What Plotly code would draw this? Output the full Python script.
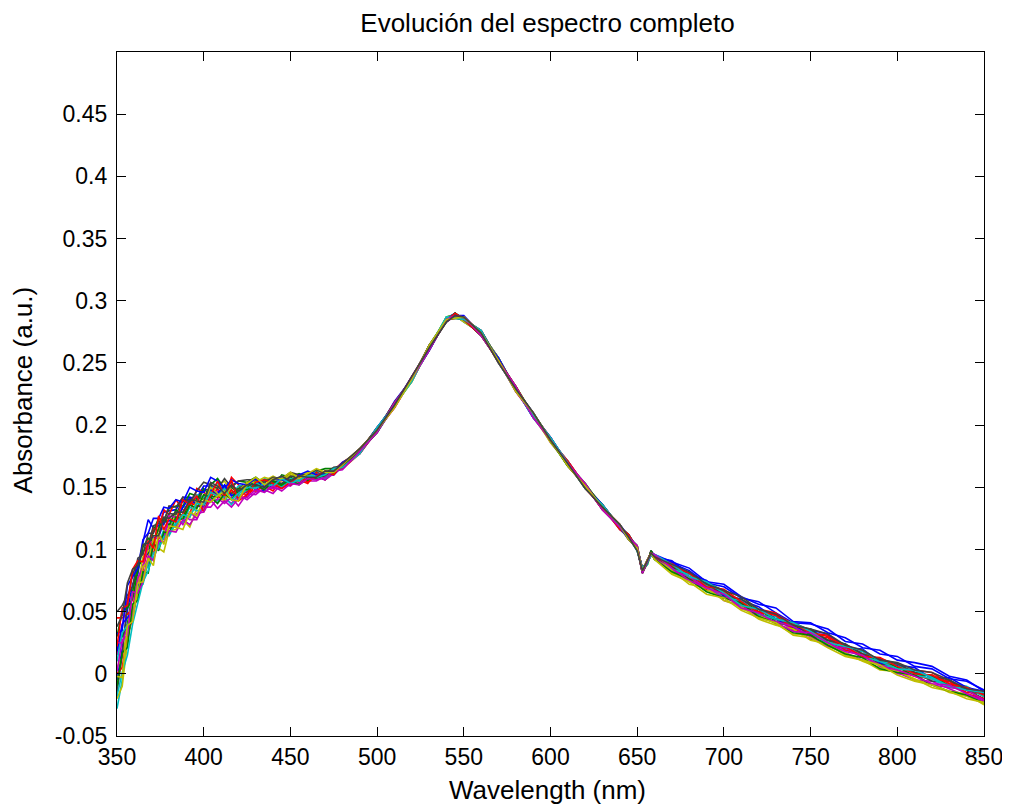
import plotly.graph_objects as go

# Wavelength grid (nm)
WAVELENGTH = [350, 353, 356, 359, 362, 365, 368, 371, 374, 377, 380,
              384, 388, 392, 396, 400, 404, 408, 412, 416, 420,
              425, 430, 435, 440, 445, 450, 455, 460, 465, 470, 475, 480,
              490, 500, 510, 520, 530, 540, 545, 550, 560, 570, 580, 590, 600,
              610, 620, 630, 640, 645, 650, 653, 656, 658, 660,
              670, 680, 690, 700, 710, 720, 730, 740, 750, 760, 770, 780, 790,
              800, 810, 820, 830, 840, 850]

# Central spectrum (absorbance)
BASE = [0.010, 0.025, 0.043, 0.060, 0.075, 0.088, 0.099, 0.107, 0.113, 0.118, 0.123,
        0.128, 0.132, 0.136, 0.139, 0.142, 0.146, 0.147, 0.147, 0.146, 0.147,
        0.150, 0.152, 0.152, 0.153, 0.155, 0.156, 0.157, 0.158, 0.160, 0.160, 0.163, 0.167,
        0.179, 0.196, 0.216, 0.237, 0.262, 0.285, 0.288, 0.285, 0.274, 0.252, 0.229, 0.208, 0.188,
        0.169, 0.151, 0.134, 0.118, 0.110, 0.101, 0.083, 0.090, 0.097, 0.094,
        0.086, 0.078, 0.071, 0.064, 0.057, 0.050, 0.044, 0.038, 0.033, 0.027, 0.021, 0.016, 0.010,
        0.005, 0.001, -0.004, -0.008, -0.013, -0.018]

# Per-spectrum deviations from the central spectrum (milli-absorbance), estimated from the band
DEV_01 = [-15, -5, 8, 12, 5, 18, 25, 10, 6, 12, 8,
          4, 10, 6, 2, 9, 5, -3, 4, 8, -2,
          3, -4, 2, 5, -3, 2, -2, 3, -1, -4, 1, -2,
          2, -1, 3, 0, -2, 1, 0, 3, -1, 2, 0, -2, 2, 0, 1, -2, 0, 2, 0, -1, 0, 2, 1,
          3, 5, 2, 6, 4, 8, 5, 3, 7, 9, 5, 8, 6, 9, 5, 8, 4, 7, 5]
DEV_02 = [10, 5, -3, 6, 12, 3, -2, 8, 12, 5, 10,
          7, 3, 9, 4, -2, 6, 10, 2, 5, 8,
          4, 6, 1, -3, 5, 2, 4, 0, 3, 5, 2, 1,
          -2, 0, 2, -1, 0, 2, 1, 0, -2, 0, 2, 0, -1, 2, 0, -2, 1, 0, 2, 0, -1, 0, 1,
          -3, 0, 2, -2, 3, 0, -4, 2, -1, 0, 3, -2, 2, -4, 0, 2, -2, 0, -3]
DEV_03 = [35, 20, 5, -8, 2, -5, 4, 10, 2, 14, 5,
          12, 0, -8, 10, 4, -4, 2, -6, 12, 5,
          -8, 0, 2, -4, -2, 1, -3, 2, 0, -2, 1, 3,
          0, 2, -2, 0, 2, -2, 0, -2, 0, 2, -2, 0, 2, 0, -2, 0, 2, -2, 0, 2, 0, -2, 0,
          2, -2, 3, 0, -2, 2, 5, -3, 0, 4, -2, 2, 0, -4, 2, 5, 0, -2, 2]
DEV_04 = [-38, -30, -15, -12, -10, -8, -12, -5, -9, -2, -4,
          -3, 2, -1, 5, 0, 3, 6, 1, -2, 4,
          2, -2, 5, 2, 3, -1, 0, -2, 4, 1, -1, 0,
          2, 0, -2, 2, 0, 0, 2, -2, 2, 0, 0, 2, 0, -2, 2, 0, 0, 2, -2, 0, 2, 0, -2,
          0, 3, -2, 2, 0, -3, 2, -2, 3, 0, -2, 2, -3, 0, 2, -2, 0, 3, 0]
DEV_05 = [5, 12, 18, 2, -6, 0, -10, -4, -8, -6, -2,
          -10, -4, -12, -15, -5, -8, 0, -6, -9, -3,
          -10, -6, -4, -8, -2, -5, 0, -3, -5, -1, -3, 1,
          -2, 0, -2, 0, -2, 0, -2, 2, 0, -2, 0, 2, -2, 0, 0, 2, -2, 0, 0, -2, 0, 2, 0,
          -2, -4, 0, -5, -2, -4, 0, -3, -5, -2, -4, -5, -2, -4, -6, -2, -4, -5, -2]
DEV_06 = [-5, -12, -8, 4, -4, 6, 0, -6, 4, -2, -12,
          2, -8, -18, -6, 2, -2, 4, 8, 0, -6,
          1, 5, 3, 6, 0, 4, -2, 1, -1, 2, -2, -1,
          0, -2, 0, 2, -2, 0, 0, 2, 0, -2, 2, 0, 0, -2, 0, 2, 0, -2, 2, 0, -2, 0, 0,
          -5, -2, -4, 0, -5, -2, -4, -6, -2, -5, -4, -6, -5, -2, -6, -4, -7, -5, -6]
DEV_07 = [-25, -10, 15, 20, 15, 10, 5, 12, 8, 2, 6,
          0, 8, 4, -2, 6, 2, -4, 3, -1, 2,
          3, -1, 4, 2, -2, 3, 1, -1, 2, 0, 2, -1,
          0, 1, 2, 0, -2, 0, 2, 0, 0, 2, 0, -2, 0, 2, 0, 0, -2, 0, 0, 2, 0, 0, -2,
          2, 0, -2, 2, 0, -2, 0, 2, -2, 0, 2, 0, -2, 2, 0, -2, 2, 0, -2]
DEV_08 = [8, 15, 2, -10, -4, -12, -6, 2, -3, 4, 0,
          -5, 2, 6, -4, -8, 2, -2, 5, -3, 0,
          -4, 2, -6, -1, 3, -3, -4, 0, -2, 1, -3, 0,
          2, -2, 0, 0, 2, -2, 0, 2, -2, 0, 0, -2, 2, 0, 0, -2, 2, 0, 0, -2, 2, 0, 0,
          5, 2, 4, -1, 2, 4, 0, -1, 2, 5, 0, 4, -1, 2, 4, 0, 5, 2, 4]
DEV_09 = [20, 25, 10, 0, 8, 14, 10, -2, 4, 8, -4,
          4, -6, 3, 1, 7, -3, -5, 0, 4, -2,
          0, 3, -2, 1, -4, 0, 2, -3, 1, -2, 0, 2,
          0, 2, 0, -2, 2, 0, -2, 0, 2, 0, -2, 2, 0, 0, -2, 2, 0, 0, -2, 2, 0, -2, 0,
          0, -2, 2, 3, -2, 2, -2, 0, 3, -2, 0, -3, 2, 0, -2, 3, -2, 2, 0]
DEV_10 = [-10, -20, -12, -16, -8, -14, -6, -10, -4, -8, -6,
          -8, -3, 2, -4, -6, 0, -4, -8, 2, -6,
          -3, -5, -1, -6, 2, -4, -1, -5, 2, -4, 1, -2,
          -2, 0, 2, -2, 0, 0, -2, 2, 0, -2, 0, 0, 2, -2, 0, 0, -2, 2, 0, -2, 0, 2, 0,
          3, 0, -3, 2, -2, 0, 3, -2, -3, 2, -2, 0, 2, -2, -3, 0, 2, -3, -2]
DEV_11 = [0, 8, -4, -14, -6, -16, -8, -14, -10, -6, -12,
          -6, -10, -2, -8, -10, -4, -8, -4, -10, -4,
          -2, 2, -3, 0, -5, 1, -2, 2, -1, -3, 0, 2,
          0, 2, 0, 0, -2, 2, 0, -2, 0, 2, 0, -2, 0, 0, 2, -2, 0, 2, 0, 0, -2, 2, 0,
          -2, 2, 0, -3, 2, -2, 0, 3, 0, -3, 2, -2, 0, 3, -2, 0, -3, 2, 0]
DEV_12 = [15, 0, -6, -12, 2, -2, 6, 0, -2, -10, 4,
          -2, -12, -6, -14, -8, -12, -6, -10, -4, -12,
          -5, -8, -2, -4, -6, -2, -4, 0, -2, -4, -2, 0,
          0, -2, 0, 2, 0, -2, 0, 0, 2, 0, -2, 0, 0, 2, 0, -2, 0, 2, 0, 0, 2, -2, 0,
          -3, 0, -2, -3, 0, -5, -2, 0, -3, -5, 0, -2, -3, -5, -2, -5, -3, 0, -3]
DEV_13 = [-30, -35, -18, -6, -12, -2, -8, 2, -12, -20, -8,
          -12, -4, -10, 0, -6, 4, -2, -8, 6, 0,
          4, 2, 6, 3, 1, 5, 2, 4, 0, 3, 1, 2,
          2, 0, 0, -2, 0, 2, 0, -2, 0, 2, 0, 0, -2, 0, 2, 0, 0, -2, 0, 2, 0, 0, 2,
          -3, -6, -2, -5, -3, -6, -5, -2, -6, -3, -6, -5, -7, -3, -5, -7, -6, -3, -7]
DEV_14 = [40, 30, 20, 10, 18, 8, 14, 6, 10, 4, 12,
          6, 10, 2, 8, 12, 6, 2, 10, 4, 8,
          6, 4, 2, 5, 2, 6, 3, 2, 4, 1, 3, 0,
          0, 2, 0, 0, 2, 0, -2, 0, 2, 0, 0, 2, 0, -2, 0, 2, 0, 0, 2, 0, 0, 2, 0,
          0, 3, 2, 0, 3, 2, 0, 3, 2, 0, 3, 0, 2, 3, 0, 2, 3, 0, 2]
DEV_15 = [22, 10, 28, 18, 10, 20, 14, 18, 12, 16, 10,
          12, 6, 14, 8, 4, 12, 8, 2, 10, 6,
          2, 5, -2, 4, 1, -2, 3, 5, 0, 2, -1, 3,
          -1, 2, 0, 2, -2, 0, 2, 0, -2, 2, 0, 0, 2, -1, 0, 2, 0, -2, 0, 2, 0, 0, 2,
          4, 7, 3, 8, 5, 6, 9, 4, 8, 6, 8, 5, 9, 6, 8, 10, 6, 8, 4]
DEV_16 = [-20, -8, -22, -4, -16, -6, -18, -2, -14, -4, -10,
          -2, -8, 0, -6, 2, -4, -10, -2, -6, 2,
          -2, 0, -4, 2, -3, 0, -5, -1, -3, 0, -2, 1,
          0, -2, 2, 0, 0, -2, 2, 0, -2, 0, 2, 0, 0, -2, 2, 0, 0, 2, 0, -2, 0, 2, -2,
          -4, -2, -5, -3, 0, -4, -3, -5, -2, -4, -5, -3, -6, -4, -2, -5, -6, -4, -5]
DEV_17 = [12, 28, 12, 24, 16, 2, 8, -6, 14, -2, 2,
          -6, 8, 0, 4, -12, -2, 8, -4, 10, -8,
          -6, 2, 4, 0, -6, -2, 2, -4, -1, 3, -3, 1,
          2, 0, -2, 2, 0, -1, 2, 0, -2, 0, 2, -1, 0, 2, 0, -2, 0, 2, -1, 0, 2, 0, 0,
          1, 3, -1, 4, 1, -1, 4, 2, 0, 3, 1, -2, 3, 1, -1, 3, 0, 2, 1]
DEV_18 = [-28, -24, -28, -20, -18, -14, -16, -10, -12, -8, -10,
          -8, -4, -10, -2, -6, 0, -4, 2, -6, -2,
          0, -3, 1, -2, 2, -3, -1, 1, -2, 0, 2, -1,
          -2, 2, 0, -2, 0, 2, -2, 0, 2, -2, 0, 0, 2, 0, -2, 2, 0, 0, -2, 2, 0, -2, 2,
          2, 0, 3, 1, -2, 2, 0, 3, 1, -2, 1, 3, 0, -1, 2, 1, -2, 0, 3]
DEV_19 = [-8, 2, -12, 6, -10, -14, -4, -16, -6, -12, -8,
          -14, -8, -16, -10, -12, -6, -14, -8, -12, -6,
          -8, -4, -6, -2, -8, -3, -5, -1, -4, -2, 0, -3,
          0, -2, 2, 0, -2, 0, 0, 2, -2, 0, 2, -2, 0, 0, 2, -2, 0, 0, 2, -2, 0, 0, 2,
          -1, -3, -2, 0, -4, -1, -3, -4, 0, -2, -3, -1, -4, -2, -3, -4, -1, -3, -4]
DEV_20 = [-12, -28, -4, -18, -2, -14, -6, -20, 0, -14, -4,
          -10, -16, -6, -12, -2, -8, -4, 0, -6, -8,
          3, 6, 0, 4, 2, 6, 0, 3, 5, 2, -1, 1,
          2, 0, -2, 0, 2, 0, -2, 2, 0, 0, -2, 2, 0, -2, 0, 0, 2, -2, 0, 0, 2, 0, -2,
          -6, -4, -7, -3, -6, -5, -3, -7, -4, -6, -7, -5, -3, -6, -7, -5, -6, -7, -5]
DEV_21 = [28, 22, 30, 24, 12, 16, 6, 4, -2, 8, 2,
          2, -2, 4, 0, -4, 8, 4, -2, 6, 0,
          2, 0, -2, 3, 4, -1, 2, 0, -2, 3, 0, 2,
          2, 0, 0, 2, 0, -2, 0, 2, 0, -2, 0, 2, 0, 0, -2, 0, 2, 0, -2, 0, 2, 0, 0,
          2, 4, 1, 3, 5, 2, 4, 1, 3, 5, 2, 3, 1, 4, 2, 5, 3, 1, 4]

DEVIATIONS = [DEV_01, DEV_02, DEV_03, DEV_04, DEV_05, DEV_06, DEV_07,
              DEV_08, DEV_09, DEV_10, DEV_11, DEV_12, DEV_13, DEV_14,
              DEV_15, DEV_16, DEV_17, DEV_18, DEV_19, DEV_20, DEV_21]

# MATLAB default colour order
COLORS = ["#0000ff", "#008000", "#ff0000", "#00bfbf", "#bf00bf", "#bfbf00", "#404040"]

X_TICKS = [350, 400, 450, 500, 550, 600, 650, 700, 750, 800, 850]
Y_TICKS = [-0.05, 0, 0.05, 0.1, 0.15, 0.2, 0.25, 0.3, 0.35, 0.4, 0.45]
Y_TICK_TEXT = ["-0.05", "0", "0.05", "0.1", "0.15", "0.2", "0.25", "0.3", "0.35", "0.4", "0.45"]

fig = go.Figure()
for i, dev in enumerate(DEVIATIONS):
    xs, ys = [], []
    for w, b, d in zip(WAVELENGTH, BASE, dev):
        xs.append(w)
        ys.append(b + d / 1000.0)
    fig.add_trace(go.Scatter(x=xs, y=ys, mode="lines",
                             line=dict(color=COLORS[i % len(COLORS)], width=1.6),
                             showlegend=False, hoverinfo="skip"))

FONT = "Liberation Sans, Arial, sans-serif"
axis_common = dict(showline=True, linecolor="black", linewidth=1.3, mirror="ticks",
                   ticks="inside", ticklen=9, tickcolor="black", tickwidth=1.3,
                   showgrid=False, zeroline=False, automargin=False,
                   tickfont=dict(family=FONT, size=23, color="black"))

# The page body adds an 8 px offset, so the figure is shifted to compensate.
fig.update_layout(
    width=1002, height=799,
    paper_bgcolor="white", plot_bgcolor="white",
    margin=dict(l=109, r=26, t=44, b=71),
    title=dict(text="Evolución del espectro completo", x=0.5384, xanchor="center",
               y=1 - 14.5 / 799, yanchor="middle", yref="container",
               font=dict(family=FONT, size=26, color="black")),
    xaxis=dict(range=[350, 850], tickvals=X_TICKS, ticktext=[str(t) for t in X_TICKS],
               **axis_common),
    yaxis=dict(range=[-0.05, 0.5], tickvals=Y_TICKS, ticktext=Y_TICK_TEXT,
               ticklabelstandoff=4, **axis_common),
    annotations=[
        dict(text="Wavelength (nm)", xref="paper", yref="paper",
             x=0.497, y=-0.079, xanchor="center", yanchor="middle", showarrow=False,
             font=dict(family=FONT, size=26, color="black")),
        dict(text="Absorbance (a.u.)", xref="paper", yref="paper",
             x=-0.1073, y=0.5066, xanchor="center", yanchor="middle", showarrow=False,
             textangle=-90, font=dict(family=FONT, size=26, color="black")),
    ],
)

fig.write_html("out.html")
